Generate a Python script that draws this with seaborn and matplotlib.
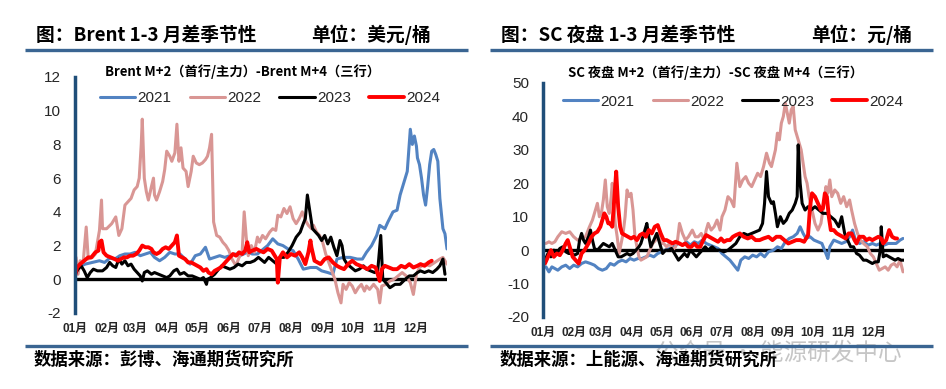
import matplotlib
matplotlib.use('Agg')
import matplotlib.pyplot as plt
from matplotlib.lines import Line2D
import pandas as pd
import seaborn as sns

# ---------------- 数据（横轴为一年中的第几天）----------------
years = ['2021', '2022', '2023', '2024']
colors = ['#5283C2', '#D99694', '#000000', '#FF0000']
widths = [2.2, 2.2, 2.2, 2.8]

month_days = [0, 31, 59, 90, 120, 151, 181, 212, 243, 273, 304, 334]
month_labels = ['01月', '02月', '03月', '04月', '05月', '06月',
                '07月', '08月', '09月', '10月', '11月', '12月']

# Brent M+2 - M+4
brent_2021_day = [2,10,17,24,29,34,39,44,49,54,59,64,69,74,78,83,88,93,98,103,108,113,118,123,128,132,137,142,147,152,157,162,169,174,179,183,189,194,199,204,209,214,219,224,231,237,242,248,253,257,263,270,277,282,286,291,296,299,304,307,312,316,319,323,326,329,331,333,335,336,338,340,342,344,346,348,350,352,354,356,358,360,361,363,365]
brent_2021_val = [0.7,0.9,1.0,1.1,1.0,1.25,1.2,1.4,1.5,1.5,1.6,1.4,1.5,1.6,1.3,1.1,1.3,1.6,1.5,1.5,1.2,0.9,1.4,1.5,1.9,1.2,1.3,1.4,1.3,1.4,1.5,1.4,1.6,1.5,1.5,1.7,2.0,2.4,2.1,2.0,1.8,1.7,1.2,0.6,0.7,0.7,0.5,0.4,0.3,1.2,1.3,1.3,1.2,1.2,1.6,2.0,2.6,3.2,3.0,3.4,4.0,4.1,5.0,5.8,6.4,8.9,8.0,8.5,7.9,7.2,6.8,6.0,5.0,4.4,5.5,6.8,7.6,7.7,7.4,7.0,4.8,3.6,3.0,2.7,1.8]

brent_2022_day = [1,3,5,8,11,13,17,20,24,26,27,31,36,40,43,46,49,52,55,58,61,63,65,66,68,70,72,75,77,78,80,83,86,88,90,93,95,98,100,102,104,106,109,111,114,116,119,122,125,128,130,132,134,136,139,142,145,148,151,154,158,161,164,166,168,170,173,176,179,181,184,187,191,194,197,199,202,205,208,211,214,217,220,223,226,229,232,234,237,240,243,246,249,252,255,258,261,263,266,269,272,275,278,281,284,286,289,293,297,299,301,305,309,313,317,321,325,329,332,335,338,343,348,353,358,361,365]
brent_2022_val = [1.3,0.3,1.1,1.0,3.1,1.2,1.3,1.5,2.9,4.7,3.0,3.0,3.3,3.7,2.6,3.0,4.4,4.6,4.8,5.3,5.5,6.0,8.0,9.5,6.0,5.2,4.7,5.5,6.0,5.0,4.7,5.2,5.8,6.5,7.6,7.3,7.0,7.5,9.2,7.0,7.8,6.6,6.4,5.5,6.4,7.3,6.9,6.8,6.9,7.1,7.3,7.8,8.6,3.4,2.6,2.5,2.2,2.0,1.7,1.2,0.8,1.3,1.6,4.0,2.5,1.4,2.0,1.6,2.5,2.2,2.6,2.4,2.8,3.0,2.9,3.8,3.7,4.2,3.9,4.3,3.6,3.3,3.6,4.0,3.5,3.2,3.0,3.2,2.8,2.6,2.2,1.5,1.0,0.5,0.0,-0.8,-1.4,-0.3,-0.6,-0.2,-0.4,-0.8,-0.5,-0.3,-0.7,-0.4,-0.6,-0.3,-0.6,-1.4,-0.4,-0.3,-0.1,0.0,0.2,0.4,0.2,-0.2,-0.9,0.3,0.7,0.9,0.8,1.0,1.2,1.3,0.9]

brent_2023_day = [0,3,6,9,12,15,18,22,24,27,31,34,37,40,43,46,49,52,55,58,61,64,66,68,71,75,78,82,86,90,93,97,100,103,107,111,115,119,123,126,129,130,133,137,141,144,148,152,156,160,164,168,172,176,180,182,186,190,194,198,201,205,209,213,217,221,224,226,228,230,232,233,236,239,242,245,248,251,254,257,260,262,264,267,271,275,279,283,286,290,294,297,300,302,305,309,314,319,324,328,332,336,339,343,347,351,355,358,361,363]
brent_2023_val = [0.3,0.6,0.8,0.5,0.1,0.4,0.6,0.5,0.5,0.5,0.7,1.0,0.8,0.7,1.2,0.9,1.1,0.8,0.9,0.6,0.4,0.2,-0.1,0.4,0.5,0.3,0.4,0.3,0.2,0.1,0.2,0.5,0.6,0.3,0.4,0.2,0.2,0.1,0.0,0.1,-0.3,0.0,0.1,0.3,0.6,0.8,0.7,0.6,0.7,0.9,0.8,1.0,1.0,1.1,1.3,1.2,1.0,1.3,1.1,0.9,1.3,1.3,1.6,2.0,2.5,2.8,3.3,3.6,5.0,4.2,3.4,3.0,2.8,2.6,2.3,2.6,2.1,2.5,1.9,1.4,2.3,2.0,1.2,0.9,0.7,0.5,0.6,0.8,0.6,0.5,0.4,0.5,2.6,0.0,-0.2,-0.5,-0.3,-0.3,0.0,0.2,0.2,0.4,0.5,0.4,0.5,0.4,0.6,0.8,1.2,0.3]

brent_2024_day = [0,2,5,9,13,16,20,23,24,26,28,31,35,39,42,45,48,51,54,57,60,63,66,69,72,75,77,80,83,86,89,92,95,98,100,102,105,108,111,114,117,120,123,126,129,131,134,137,140,143,146,149,152,155,158,161,164,167,169,171,174,178,181,185,189,193,196,198,199,201,204,208,212,216,220,223,226,229,231,232,235,238,241,245,249,253,257,260,264,268,272,276,280,284,287,291,295,299,301,304,308,312,316,320,324,328,332,336,339,343,347,350]
brent_2024_val = [0.2,0.7,0.9,1.1,1.3,1.3,1.6,1.7,2.2,2.3,1.6,1.4,1.3,1.2,1.1,1.2,1.3,1.3,1.4,1.4,1.5,1.7,2.0,1.9,1.9,1.8,1.6,1.5,1.6,1.8,1.9,1.8,2.0,2.2,2.6,1.4,1.3,1.2,1.0,1.0,0.9,0.8,0.7,0.5,0.6,0.4,0.3,0.5,0.6,0.7,0.9,1.1,1.3,1.5,1.4,1.6,1.5,1.7,2.2,1.6,1.7,1.8,1.7,1.6,1.8,1.7,1.4,1.2,-0.2,1.3,1.6,1.3,1.5,1.4,1.6,1.3,0.9,1.6,2.3,1.9,1.1,1.0,0.9,1.2,1.3,1.0,0.8,0.7,0.6,0.9,1.1,0.9,0.8,0.7,0.6,0.8,0.7,-0.1,0.6,0.8,0.7,0.6,0.6,0.8,0.7,0.9,0.7,0.8,0.9,0.8,1.0,1.1]

# SC 夜盘 M+2 - M+4
sc_2021_day = [3,6,9,12,15,19,23,27,31,35,39,43,48,52,56,60,64,68,72,76,80,84,88,92,96,100,104,108,112,116,120,124,128,132,137,141,145,149,153,157,161,165,169,173,177,181,185,189,193,197,200,204,208,212,216,220,224,228,233,237,241,245,249,253,257,260,263,266,270,274,278,282,286,288,290,294,298,302,306,310,313,316,320,324,329,333,337,341,345,349,353,357,361,364]
sc_2021_val = [-5,-6.5,-5,-5.5,-6,-5,-4.5,-5.5,-4.5,-5,-4,-3.5,-4,-4.5,-5.5,-6,-5.5,-4,-4.5,-3.5,-3,-3.5,-2.5,-3,-2.5,-2.5,-2,-1.5,-2,-1,-0.5,0,0.5,1,2,1.5,2.5,1.5,2.5,2,3,2,1.5,1,0.5,-1,-2,-3,-4.5,-6,-3,-2,-2.5,-1.5,-2,-1,-2,-0.5,0,1,0.5,2.5,3.5,4,5,7,5,3.5,4,3,2.5,2,-1,-2.5,1,3,2.5,2,2.5,4,6,3,2,2.5,1.5,2,1.5,2,1.5,2,2,2,3,3.5]

sc_2022_day = [3,6,9,12,15,19,23,27,31,35,39,43,47,50,53,55,57,59,61,63,65,67,69,70,72,73,75,77,79,81,83,85,87,89,91,93,95,97,99,102,105,108,111,114,116,119,122,125,128,131,134,136,138,141,144,147,149,151,154,157,160,163,165,167,170,173,176,179,181,184,187,190,193,196,199,202,205,208,211,214,217,220,223,226,229,231,235,237,239,241,243,245,247,249,251,253,255,257,259,261,263,265,267,269,272,275,278,281,284,286,288,290,292,295,298,301,304,307,310,312,315,318,321,324,328,331,334,337,340,343,346,349,352,355,358,361,364]
sc_2022_val = [2,2.5,2,2.5,4,5.5,5,5.5,4,3,3.5,4,7,9,12,14,10,11,15,21,13,11,16,20,13,8,4,-1,2,5,10,18,16,17,12,4,1,-2,-3,-2.5,-2,0,2,3,5,2,2,1,2,0,1,3,8,5,3,4,5,6,4,4,5,3,6,8,6,7,9,6,10,12,16,15,13,26,19,21,22,20,19,21,23,22,25,29,26,25,30,35,33,38,40,44,41,38,42,43,36,34,32,30,26,22,20,16,12,8,6,8,14,19,17,21,16,18,17,14,16,13,15,12,8,5,3,2,1,-1,-2,-4,-6,-5.5,-5,-6,-4.5,-4,-5,-3,-6.5]

sc_2023_day = [2,5,8,11,14,17,20,23,26,29,32,35,37,39,41,43,46,48,50,52,55,58,61,64,67,70,73,76,79,82,85,88,91,94,97,99,101,103,105,107,109,112,115,118,121,124,127,130,133,137,140,143,146,149,152,155,158,161,164,167,171,175,179,183,187,191,195,199,203,207,211,215,219,222,224,226,228,231,233,235,237,240,243,246,249,252,255,257,258,260,262,265,268,271,275,279,283,287,291,295,299,302,305,308,311,314,317,320,324,327,330,333,336,339,341,342,344,347,350,353,356,359,362,365]
sc_2023_val = [-3,-1,-2,0,-1,0.5,1,-0.5,-1,-1,-1.5,-1,3,5,3,2,4,6,3,0.5,0,1,2,1.5,1,2,0,-2,-2,-1.5,-1,-1.5,-1,0,1,2,4,6,8,4,1,3,5,2,-1,0,0,0.5,-1,-3,-2,-1,-2,0,-1,-2,-1,0,1,0,1,0,0,-0.5,0,1,2,4,5,4.5,5,5.5,6,8,14,23.5,16,14,14.5,11,7,10,8,9,11,12,14,16,31.5,20,14,12,13,12,13,12,11,11,10,9,7,10,5,3,1,1,-1,-1.5,-3,-3,-3.5,-4,-3.5,-3.5,0,7,-2,-1.5,-2,-2.5,-3,-2.5,-3,-3]

sc_2024_day = [2,5,8,11,14,17,20,23,25,27,30,33,36,39,42,46,49,52,55,58,60,62,64,66,68,70,72,74,76,78,80,83,86,89,92,95,98,101,104,107,110,113,116,119,122,125,128,131,134,138,141,144,147,150,153,156,159,162,165,168,171,174,177,180,183,186,189,192,195,199,203,207,211,215,219,223,228,232,236,240,244,248,252,256,260,264,268,270,272,275,278,281,283,285,287,289,291,294,297,300,303,306,309,312,315,317,320,324,327,330,333,336,339,342,344,347,350,353,356,358]
sc_2024_val = [-4,-2,0,-2,-1,-1.5,0,2,3,1,-2,-3,-4,-1,0,2,4,5,5.5,7,9,11,10,8,8,7,15,23.5,13,7,5,4.5,4,3.5,4,3,4.5,5,4,6,5,7,7.5,5,3,3,2.5,2,2.5,2,1.5,2,1,1,2,1,1,3,4.5,4,3.5,3,2.5,3.5,2.5,3,3,4,4.5,5,4,3.5,4,3,3,3.5,4,3,4,4,3,2,2.5,3,3,2.5,4.5,13,17,16,14,12,12.5,17,16,10,6,6,5,4.5,4,3.5,5,5,3,2,4,4,3,3.5,3,3.5,4,3.5,2,3,6,4,3.5,3.5]

# ---------------- 样式 ----------------
sns.set_style('white')
plt.rcParams['font.family'] = ['Noto Sans CJK SC', 'DejaVu Sans']
plt.rcParams['axes.unicode_minus'] = False

fig = plt.figure(figsize=(9.46, 3.89), dpi=100)
W, H = 946, 389

def fx(px):
    return px / W

def fy(py):
    return 1 - py / H

spine_c = '#1F4E79'
head_c = '#3A6592'


def draw_panel(ax, series, ylim, yticks, leg_anchor):
    for (day, val), yr, c, lw in zip(series, years, colors, widths):
        df = pd.DataFrame({'day': day, 'val': val})
        sns.lineplot(data=df, x='day', y='val', ax=ax, color=c, lw=lw,
                     estimator=None, sort=False, legend=False)
    ax.axhline(0, color='black', lw=2.4, zorder=1.5)
    ax.set_xlim(0, 365)
    ax.set_ylim(*ylim)
    ax.set_yticks(yticks)
    ax.set_yticklabels([str(t) for t in yticks], family='Liberation Sans', fontsize=11)
    ax.set_xticks(month_days)
    ax.set_xticklabels(month_labels, fontsize=8.5, weight='bold',
                       family=['Liberation Sans', 'Noto Sans CJK SC'])
    ax.tick_params(axis='x', length=0, pad=7)
    ax.tick_params(axis='y', direction='in', length=4, width=2, color=spine_c, pad=10)
    for s in ['top', 'right', 'bottom']:
        ax.spines[s].set_visible(False)
    ax.spines['left'].set_color(spine_c)
    ax.spines['left'].set_linewidth(2.5)
    ax.set_xlabel('')
    ax.set_ylabel('')
    handles = [Line2D([], [], color=c, lw=lw) for c, lw in zip(colors, widths)]
    ax.legend(handles, years, loc='center left', bbox_to_anchor=leg_anchor,
              ncol=4, frameon=False, handlelength=2.3, handletextpad=0.15,
              columnspacing=1.2, borderpad=0, borderaxespad=0,
              prop={'family': 'Liberation Sans', 'size': 11})


ax1 = fig.add_axes([fx(75), 1 - 313 / H, fx(372), 236 / H])
draw_panel(ax1,
           [(brent_2021_day, brent_2021_val), (brent_2022_day, brent_2022_val),
            (brent_2023_day, brent_2023_val), (brent_2024_day, brent_2024_val)],
           (-2, 12), [-2, 0, 2, 4, 6, 8, 10, 12], (0.067, 0.91))

ax2 = fig.add_axes([fx(543), 1 - 317 / H, fx(361), 234 / H])
draw_panel(ax2,
           [(sc_2021_day, sc_2021_val), (sc_2022_day, sc_2022_val),
            (sc_2023_day, sc_2023_val), (sc_2024_day, sc_2024_val)],
           (-20, 50), [-20, -10, 0, 10, 20, 30, 40, 50], (0.055, 0.92))

# 标题、分隔线、来源
title_kw = dict(fontsize=13.5, weight='bold', va='center', color='black')
fig.text(fx(36), fy(35), '图：Brent 1-3 月差季节性', **title_kw)
fig.text(fx(311), fy(35), '单位：美元/桶', **title_kw)
fig.text(fx(501), fy(35), '图：SC 夜盘 1-3 月差季节性', **title_kw)
fig.text(fx(811), fy(35), '单位：元/桶', **title_kw)

sub_kw = dict(fontsize=9.5, weight='bold', va='center', color='black')
fig.text(fx(105), fy(72), 'Brent M+2（首行/主力）-Brent M+4（三行）', **sub_kw)
fig.text(fx(568), fy(73), 'SC 夜盘 M+2（首行/主力）-SC 夜盘 M+4（三行）', **sub_kw)

for x0, x1 in [(25, 468), (490, 933)]:
    for yy in (50, 346):
        fig.add_artist(Line2D([fx(x0), fx(x1)], [fy(yy), fy(yy)],
                              color=head_c, lw=2.4, solid_capstyle='butt'))

src_kw = dict(fontsize=12.5, weight='bold', va='center', color='black')
fig.text(fx(34), fy(360), '数据来源：彭博、海通期货研究所', **src_kw)
fig.text(fx(500), fy(360), '数据来源：上能源、海通期货研究所', **src_kw)

# 公众号水印
fig.text(fx(655), fy(353), '公众号 · 能源研发中心', fontsize=17, color='#a0a0a0',
         alpha=0.6, va='center', zorder=0)

fig.savefig('out.png', dpi=100)
